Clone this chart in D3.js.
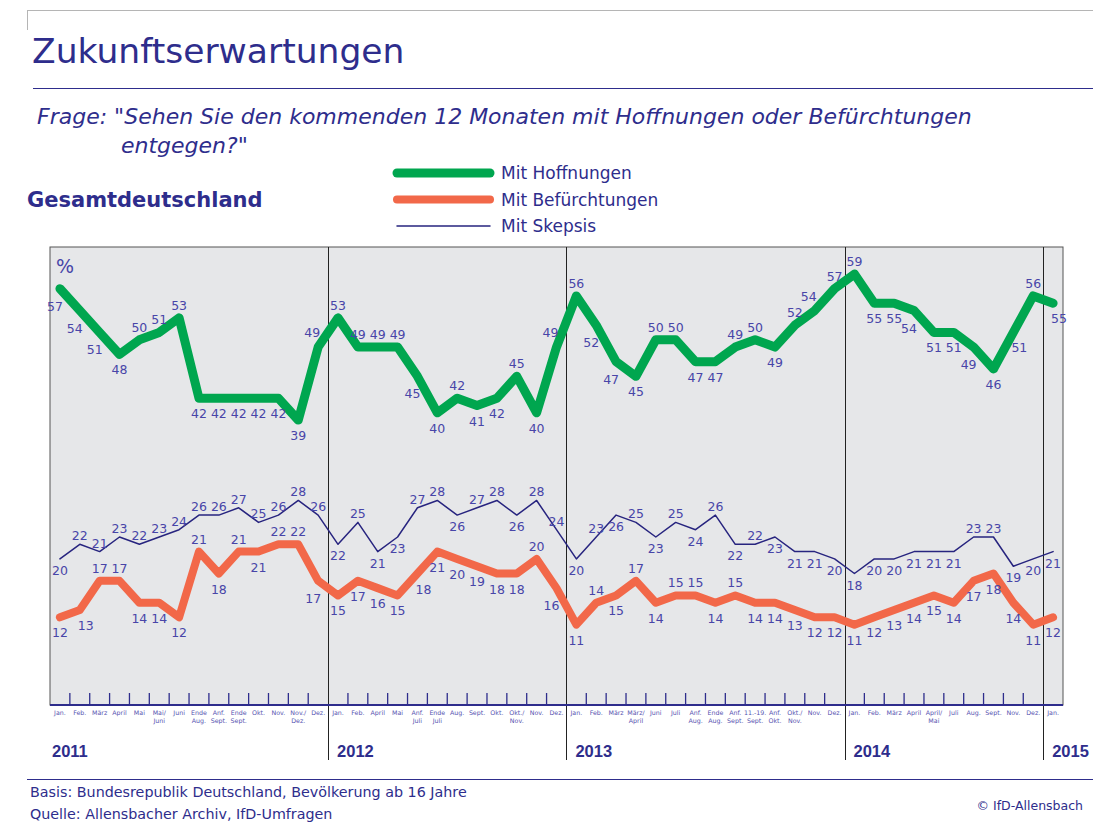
<!DOCTYPE html>
<html>
<head>
<meta charset="utf-8">
<script src="https://cdn.jsdelivr.net/npm/d3@7"></script>
<style>
  body { margin: 0; background: #fff; }
  svg text { font-family: "DejaVu Sans", sans-serif; }
</style>
</head>
<body>
<div id="chart"></div>
<script>
// survey waves per year (tick labels, "|" = line break)
const years = ['2011', '2012', '2013', '2014', '2015'];
const periods = [
    ['Jan.', 'Feb.', 'März', 'April', 'Mai', 'Mai/|Juni', 'Juni', 'Ende|Aug.', 'Anf.|Sept.', 'Ende|Sept.', 'Okt.', 'Nov.', 'Nov./|Dez.', 'Dez.'],
    ['Jan.', 'Feb.', 'April', 'Mai', 'Anf.|Juli', 'Ende|Juli', 'Aug.', 'Sept.', 'Okt.', 'Okt./|Nov.', 'Nov.', 'Dez.'],
    ['Jan.', 'Feb.', 'März', 'März/|April', 'Juni', 'Juli', 'Anf.|Aug.', 'Ende|Aug.', 'Anf.|Sept.', '11.-19.|Sept.', 'Anf.|Okt.', 'Okt./|Nov.', 'Nov.', 'Dez.'],
    ['Jan.', 'Feb.', 'März', 'April', 'April/|Mai', 'Juli', 'Aug.', 'Sept.', 'Nov.', 'Dez.'],
    ['Jan.']
];

const hoffnungen = [57, 54, 51, 48, 50, 51, 53, 42, 42, 42, 42, 42, 39, 49,
    53, 49, 49, 49, 45, 40, 42, 41, 42, 45, 40, 49,
    56, 52, 47, 45, 50, 50, 47, 47, 49, 50, 49, 52, 54, 57,
    59, 55, 55, 54, 51, 51, 49, 46, 51, 56,
    55];
const befuerchtungen = [12, 13, 17, 17, 14, 14, 12, 21, 18, 21, 21, 22, 22, 17,
    15, 17, 16, 15, 18, 21, 20, 19, 18, 18, 20, 16,
    11, 14, 15, 17, 14, 15, 15, 14, 15, 14, 14, 13, 12, 12,
    11, 12, 13, 14, 15, 14, 17, 18, 14, 11,
    12];
const skepsis = [20, 22, 21, 23, 22, 23, 24, 26, 26, 27, 25, 26, 28, 26,
    22, 25, 21, 23, 27, 28, 26, 27, 28, 26, 28, 24,
    20, 23, 26, 25, 23, 25, 24, 26, 22, 22, 23, 21, 21, 20,
    18, 20, 20, 21, 21, 21, 23, 23, 19, 20,
    21];

// where each value label sits: a above, b below, l below-left, L above-left, r below-right
const placeHoff = 'lllbaaabbbbbbL' + 'aaaalbabbabL' + 'allbaabbaabaLa' + 'abblbblbra' + 'r';
const placeBef = 'braabbbababaal' + 'bbbbrbbbbbal' + 'bababaababbbbb' + 'bbbbbbbbbb' + 'b';
const placeSkep = 'baaaaaaaaaaaaa' + 'babbaabaabaa' + 'babababababbbb' + 'bbbbbbaabb' + 'b';

const W = 1093, H = 823;
const navy = '#2e2d8c', labelColor = '#4845a8';
const plotL = 50, plotR = 1063, plotT = 247, axisY = 705;

const svg = d3.select('#chart').append('svg')
    .attr('width', W).attr('height', H);

const n = hoffnungen.length;
const x = d3.scaleBand().domain(d3.range(n)).range([plotL, plotR]).padding(0);
const y = d3.scaleLinear().domain([0, 62.7]).range([axisY, plotT]);
const cx = i => x(i) + x.bandwidth() / 2;

// frame + header
svg.append('line').attr('x1', 27).attr('x2', W).attr('y1', 10.5).attr('y2', 10.5)
    .attr('stroke', '#b5b5b5');
svg.append('line').attr('x1', 27.5).attr('x2', 27.5).attr('y1', 10).attr('y2', 30)
    .attr('stroke', '#b5b5b5');

svg.append('text').attr('x', 32).attr('y', 63)
    .attr('font-size', 34.5).attr('fill', navy)
    .text('Zukunftserwartungen');
svg.append('line').attr('x1', 33).attr('x2', W).attr('y1', 88.5).attr('y2', 88.5)
    .attr('stroke', navy).attr('stroke-width', 1);

svg.append('text').attr('x', 37).attr('y', 124)
    .attr('font-size', 22).attr('font-style', 'italic').attr('fill', navy)
    .text('Frage:  "Sehen Sie den kommenden 12 Monaten mit Hoffnungen oder Befürchtungen');
svg.append('text').attr('x', 121).attr('y', 153)
    .attr('font-size', 22).attr('font-style', 'italic').attr('fill', navy)
    .text('entgegen?"');

svg.append('text').attr('x', 27).attr('y', 207)
    .attr('font-size', 21).attr('font-weight', 'bold').attr('fill', navy)
    .text('Gesamtdeutschland');

// legend
const legendItems = [
    { name: 'Mit Hoffnungen', color: '#00a64f', width: 9 },
    { name: 'Mit Befürchtungen', color: '#f26849', width: 8 },
    { name: 'Mit Skepsis', color: '#27247f', width: 1.5 }
];
const legend = svg.append('g');
legendItems.forEach((d, i) => {
    const ly = 173 + i * 26.5;
    legend.append('line').attr('x1', 397).attr('x2', 490).attr('y1', ly).attr('y2', ly)
        .attr('stroke', d.color).attr('stroke-width', d.width).attr('stroke-linecap', 'round');
    legend.append('text').attr('x', 501).attr('y', ly + 6)
        .attr('font-size', 17).attr('fill', navy).text(d.name);
});

// plot background
svg.append('rect').attr('x', plotL).attr('y', plotT)
    .attr('width', plotR - plotL).attr('height', axisY - plotT)
    .attr('fill', '#e6e7e9').attr('stroke', '#555').attr('stroke-width', 1);

svg.append('text').attr('x', 56).attr('y', 273)
    .attr('font-size', 19).attr('fill', labelColor).text('%');

// year boundaries
let offsets = [], acc = 0;
periods.forEach(p => { offsets.push(acc); acc += p.length; });
const boundaries = offsets.slice(1);

// small ticks between waves
const tickIdx = d3.range(1, n).filter(i => !boundaries.includes(i));
svg.append('g').selectAll('line').data(tickIdx).enter().append('line')
    .attr('x1', i => x(i)).attr('x2', i => x(i))
    .attr('y1', axisY - 12).attr('y2', axisY)
    .attr('stroke', navy).attr('stroke-width', 1.3);

svg.append('g').selectAll('line').data(boundaries).enter().append('line')
    .attr('x1', i => Math.round(x(i)) + 0.5).attr('x2', i => Math.round(x(i)) + 0.5)
    .attr('y1', plotT).attr('y2', 760)
    .attr('stroke', '#222').attr('stroke-width', 1);

svg.append('line').attr('x1', plotL).attr('x2', plotR).attr('y1', axisY).attr('y2', axisY)
    .attr('stroke', navy).attr('stroke-width', 2);

// tick labels
const flatLabels = periods.flat();
const tl = svg.append('g').selectAll('text').data(flatLabels).enter().append('text')
    .attr('x', (d, i) => cx(i)).attr('y', 715)
    .attr('text-anchor', 'middle').attr('font-size', 6.3).attr('fill', '#5552b0');
tl.each(function(d) {
    const parts = d.split('|');
    const t = d3.select(this);
    parts.forEach((p, k) => {
        t.append('tspan').attr('x', t.attr('x')).attr('dy', k === 0 ? 0 : 8).text(p);
    });
});

// year labels
svg.append('g').selectAll('text').data(years).enter().append('text')
    .attr('x', (d, i) => x(offsets[i]) + (i === 0 ? 2 : 9)).attr('y', 757)
    .style('font-family', '"Liberation Sans", Arial, sans-serif')
    .attr('font-size', 16.5).attr('font-weight', 'bold').attr('fill', navy)
    .text(d => d);

// series
const line = d3.line().x((d, i) => cx(i)).y(d => y(d));
const series = [
    { values: skepsis, color: '#27247f', width: 1.5, place: placeSkep, up: 4, down: 16 },
    { values: befuerchtungen, color: '#f26849', width: 8, place: placeBef, up: 8, down: 20 },
    { values: hoffnungen, color: '#00a64f', width: 9, place: placeHoff, up: 8, down: 20 }
];
series.forEach(s => {
    svg.append('path').datum(s.values)
        .attr('d', line)
        .attr('fill', 'none').attr('stroke', s.color).attr('stroke-width', s.width)
        .attr('stroke-linejoin', 'round').attr('stroke-linecap', 'round');
});

const offset = (code, s) => {
    switch (code) {
        case 'a': return [0, -s.up];
        case 'b': return [0, s.down];
        case 'l': return [-5, s.down + 2];
        case 'L': return [-6, -s.up - 2];
        case 'r': return [6, s.down];
        default: return [0, -s.up];
    }
};
series.forEach(s => {
    svg.append('g').selectAll('text').data(s.values).enter().append('text')
        .attr('x', (d, i) => cx(i) + offset(s.place[i], s)[0])
        .attr('y', (d, i) => y(d) + offset(s.place[i], s)[1])
        .attr('text-anchor', 'middle').attr('font-size', 12.5).attr('fill', labelColor)
        .text(d => d);
});

// footer
svg.append('line').attr('x1', 27).attr('x2', W).attr('y1', 779.5).attr('y2', 779.5)
    .attr('stroke', navy).attr('stroke-width', 1);
svg.append('text').attr('x', 30).attr('y', 797)
    .attr('font-size', 14.3).attr('fill', navy)
    .text('Basis: Bundesrepublik Deutschland, Bevölkerung ab 16 Jahre');
svg.append('text').attr('x', 30).attr('y', 819)
    .attr('font-size', 14.3).attr('fill', navy)
    .text('Quelle: Allensbacher Archiv, IfD-Umfragen');
svg.append('text').attr('x', 1083).attr('y', 810).attr('text-anchor', 'end')
    .attr('font-size', 12.5).attr('fill', navy)
    .text('© IfD-Allensbach');
</script>
</body>
</html>
